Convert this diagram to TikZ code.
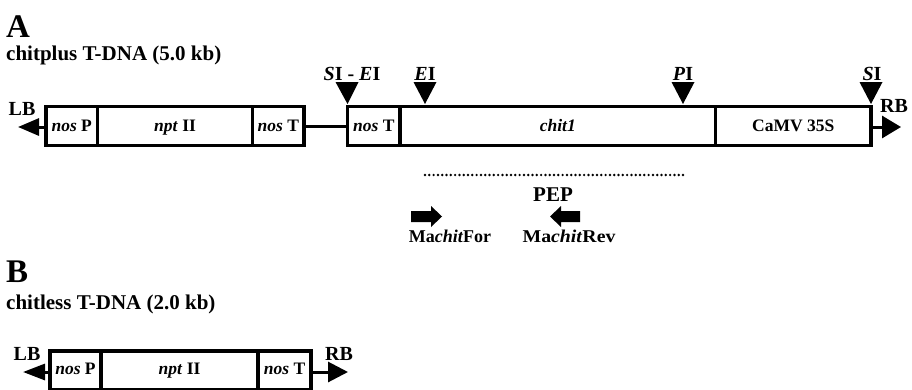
\documentclass[tikz,border=0pt]{standalone}
\usepackage{fontspec}
\setmainfont{Liberation Serif}
\usetikzlibrary{arrows.meta}
\tikzset{
  seg/.style={draw, line width=3.2pt, rectangle, inner sep=0pt, minimum height=39pt,
              text height=11.6pt, text depth=0pt, font=\bfseries\fontsize{17.5}{17.5}\selectfont},
  lbl/.style={inner sep=0pt, anchor=base, font=\bfseries\fontsize{20}{20}\selectfont},
  panel/.style={inner sep=0pt, anchor=base west, font=\bfseries\fontsize{33}{33}\selectfont},
  title/.style={inner sep=0pt, anchor=base west, font=\bfseries\fontsize{21}{21}\selectfont},
  primer/.style={inner sep=0pt, anchor=base, font=\bfseries\fontsize{18}{18}\selectfont},
  link/.style={line width=3pt},
  border/.style={line width=3pt},
  site/.style={fill=black},
  block/.style={fill=black}
}
\begin{document}
\begin{tikzpicture}[x=1pt,y=-1pt]
\useasboundingbox[fill=white] (0,0) rectangle (912,389);

% Panel A titles
\node[panel] (pA) at (6,37) {A};
\node[title] (tA) at (6,60) {chitplus T-DNA (5.0 kb)};

% Panel A, first cassette
\node[seg, minimum width=51.5pt] (aNosP) at (71.75,126) {\textit{nos} P};
\node[seg, minimum width=155pt] (aNpt) at (175,126) {\textit{npt} II};
\node[seg, minimum width=51.5pt] (aNosT) at (278.25,126) {\textit{nos} T};
% Panel A, second cassette
\node[seg, minimum width=52.5pt] (aNosT2) at (373.75,126) {\textit{nos} T};
\node[seg, minimum width=315.5pt] (aChit) at (557.75,126) {\textit{chit1}};
\node[seg, minimum width=155.5pt] (aCamv) at (793.25,126) {CaMV 35S};

\draw[link] (aNosT.east) -- (aNosT2.west);

% borders A
\coordinate (aLBtip) at (18,127);
\coordinate (aRBstart) at (871,127);
\coordinate (aRBtip) at (901,127);
\draw[border, -{Triangle[length=21pt,width=17pt]}] (aNosP.west |- aLBtip) -- (aLBtip);
\draw[border, -{Triangle[length=19pt,width=22pt]}] (aRBstart) -- (aRBtip);
\node[lbl] (aLB) at (22,115) {LB};
\node[lbl] (aRB) at (894,112) {RB};

% restriction sites
\fill[site] (335.5,82) -- (358.5,82) -- (347.5,104) -- cycle;
\fill[site] (413.5,82) -- (436.5,82) -- (425,104) -- cycle;
\fill[site] (671.5,82) -- (694.5,82) -- (683,104) -- cycle;
\fill[site] (859.5,82) -- (882.5,82) -- (871,104) -- cycle;
\node[lbl] (sSE) at (352,80) {\textit{S}I - \textit{E}I};
\node[lbl] (sE) at (425,80) {\textit{E}I};
\node[lbl] (sP) at (683,80) {\textit{P}I};
\node[lbl] (sS) at (872,80) {\textit{S}I};

% PEP
\coordinate (pepL) at (425,175);
\coordinate (pepR) at (683,175);
\draw[line width=2.7pt, line cap=round, dash pattern=on 0pt off 4.3pt] (pepL) -- (pepR);
\node[lbl, font=\bfseries\fontsize{21}{21}\selectfont] (pep) at (553,201) {PEP};

% primers
\fill[block] (411,211) -- (431,211) -- (431,206) -- (442,216.5) -- (431,227) -- (431,222) -- (411,222) -- cycle;
\fill[block] (580,211) -- (561,211) -- (561,206) -- (550,216.5) -- (561,227) -- (561,222) -- (580,222) -- cycle;
\node[primer] (pF) at (450,242) {Ma\textit{chit}For};
\node[primer, xscale=1.1] (pR) at (569,242) {Ma\textit{chit}Rev};

% Panel B
\node[panel] (pB) at (6,282) {B};
\node[title] (tB) at (6,309) {chitless T-DNA (2.0 kb)};
\begin{scope}
\clip (0,0) rectangle (912,389);
\node[seg, minimum width=51pt, text depth=3pt] (bNosP) at (75.5,370.5) {\textit{nos} P};
\node[seg, minimum width=157pt, text depth=3pt] (bNpt) at (179.5,370.5) {\textit{npt} II};
\node[seg, minimum width=53pt, text depth=3pt] (bNosT) at (284.5,370.5) {\textit{nos} T};
\end{scope}
\coordinate (bLBtip) at (23,372);
\coordinate (bRBtip) at (348,372);
\draw[border, -{Triangle[length=22pt,width=16pt]}] (bNosP.west |- bLBtip) -- (bLBtip);
\draw[border, -{Triangle[length=20pt,width=20pt]}] (bNosT.east |- bRBtip) -- (bRBtip);
\node[lbl] (bLB) at (27,360) {LB};
\node[lbl] (bRB) at (339,360) {RB};
\end{tikzpicture}
\end{document}
